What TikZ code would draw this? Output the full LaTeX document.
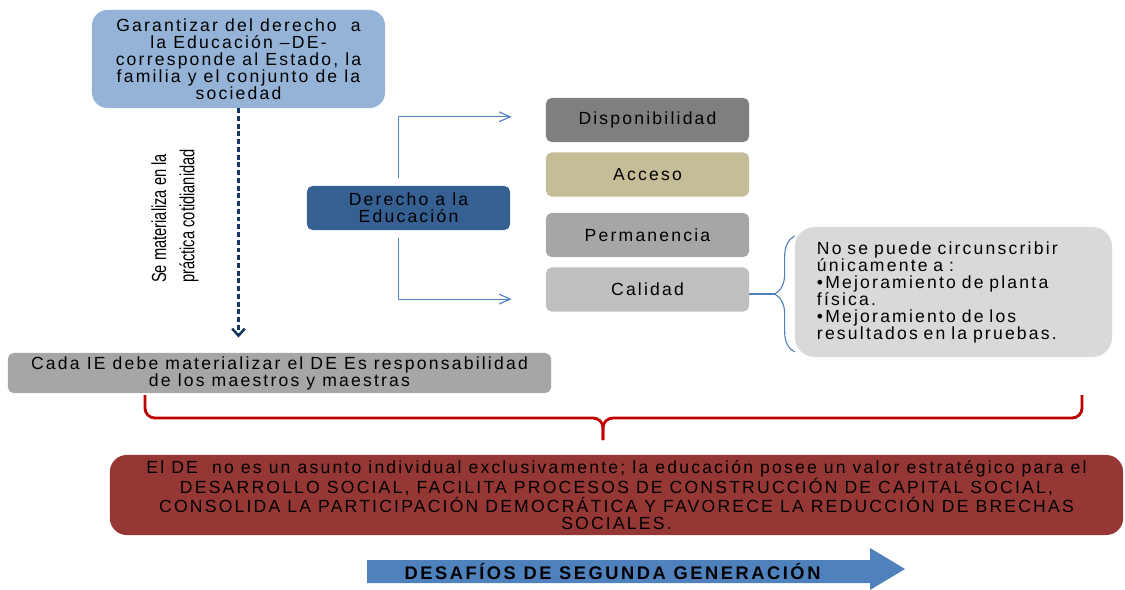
\documentclass[tikz,border=0pt]{standalone}
\usepackage{fontspec}
\setmainfont{Liberation Sans}[LetterSpace=12.5]
\newfontfamily\narrowfont{Liberation Sans}[FakeStretch=0.72]
\newfontfamily\arrowfont{Liberation Sans}[LetterSpace=14]
\usetikzlibrary{arrows.meta,decorations.pathreplacing}
\definecolor{garblue}{HTML}{95B3D7}
\definecolor{derblue}{HTML}{376092}
\definecolor{linkblue}{HTML}{4F81BD}
\definecolor{navy}{HTML}{17375E}
\definecolor{dispgray}{HTML}{7F7F7F}
\definecolor{acctan}{HTML}{C4BD97}
\definecolor{permgray}{HTML}{A6A6A6}
\definecolor{calgray}{HTML}{BFBFBF}
\definecolor{notegray}{HTML}{D9D9D9}
\definecolor{socred}{HTML}{953735}
\definecolor{bracered}{HTML}{C00000}
\begin{document}
\begin{tikzpicture}[x=0.025cm,y=-0.025cm,
  box/.style={rounded corners=4pt, inner sep=0pt, align=center, text=black,
    font=\fontsize{12.5}{12.1}\selectfont},
  slot/.style={box, minimum width=5.075cm, minimum height=1.1cm},
  conn/.style={draw=linkblue, line width=0.8pt},
  tip/.style={-{Straight Barb[length=8pt,width=7pt]}},
  redbrace/.style={draw=bracered, line width=2pt, rounded corners=7pt}]
\useasboundingbox (0,0) rectangle (1125,590);

\node[box, fill=garblue, rounded corners=11pt, minimum width=7.325cm, minimum height=2.45cm] (gar) at (238.5,59)
  {Garantizar del derecho\ \ a\\la Educación –DE-\\corresponde al Estado, la\\familia y el conjunto de la\\sociedad};
\node[box, fill=permgray, minimum width=13.575cm, minimum height=1cm] (cada) at (279.5,373)
  {Cada IE debe materializar el DE Es responsabilidad\\de los maestros y maestras};
\draw[navy, line width=1.8pt, dash pattern=on 3.5pt off 2pt, shorten >=0.38cm,
  -{Straight Barb[length=5pt,width=9pt]}] (gar.south) -- (gar.south |- cada.north);
\node[rotate=90, align=left, font=\narrowfont\fontsize{14.5}{20}\selectfont] (mat) at (175,216)
  {Se materializa en la\\práctica cotidianidad};

\node[box, fill=derblue, minimum width=5.075cm, minimum height=1.1cm] (der) at (408.5,208) {Derecho a la\\Educación};
\node[slot, fill=dispgray] (dispo) at (647.5,120) {Disponibilidad};
\node[slot, fill=acctan] (acc) at (647.5,174.5) {Acceso};
\node[slot, fill=permgray] (perm) at (647.5,235) {Permanencia};
\node[slot, fill=calgray] (cal) at (647.5,289.5) {Calidad};
\draw[conn, tip] ([xshift=-0.24cm,yshift=0.2cm]der.north) |- ([xshift=-0.85cm,yshift=0.08cm]dispo.west);
\draw[conn, tip] ([xshift=-0.24cm,yshift=-0.2cm]der.south) |- ([xshift=-0.85cm,yshift=-0.24cm]cal.west);

\node[box, fill=notegray, rounded corners=14pt, minimum width=7.925cm, minimum height=3.25cm,
  text width=6.825cm, align=left] (note) at (953.5,292)
  {No se puede circunscribir\\únicamente a :\\•Mejoramiento de planta\\física.\\•Mejoramiento de los\\resultados en la pruebas.};
\draw[conn, decorate, decoration={brace, amplitude=0.5cm}]
  ([yshift=-1.5cm]note.west) -- ([yshift=1.4cm]note.west);
\coordinate (btip) at ([xshift=-0.5cm,yshift=-0.05cm]note.west);
\draw[conn] (btip -| cal.east) -- (btip);

\draw[redbrace] (145,395) -- (145,418) -- (603,418) -- (603,440);
\draw[redbrace] (1082,395) -- (1082,418) -- (603,418) -- (603,440);
\node[box, fill=socred, rounded corners=12pt, minimum width=25.325cm, minimum height=2cm] (soc) at (616.5,495)
  {El DE\ \ no es un asunto individual exclusivamente; la educación posee un valor estratégico para el\\
   DESARROLLO SOCIAL, FACILITA PROCESOS DE CONSTRUCCIÓN DE CAPITAL SOCIAL,\\
   CONSOLIDA LA PARTICIPACIÓN DEMOCRÁTICA Y FAVORECE LA REDUCCIÓN DE BRECHAS\\
   SOCIALES.};

\fill[linkblue] (367,560) -- (870,560) -- (870,548) -- (905,569) -- (870,590) -- (870,583) -- (367,583) -- cycle;
\node[font=\arrowfont\bfseries\fontsize{13}{13}\selectfont] (desaf) at (612.5,571) {DESAFÍOS DE SEGUNDA GENERACIÓN};
\end{tikzpicture}
\end{document}
